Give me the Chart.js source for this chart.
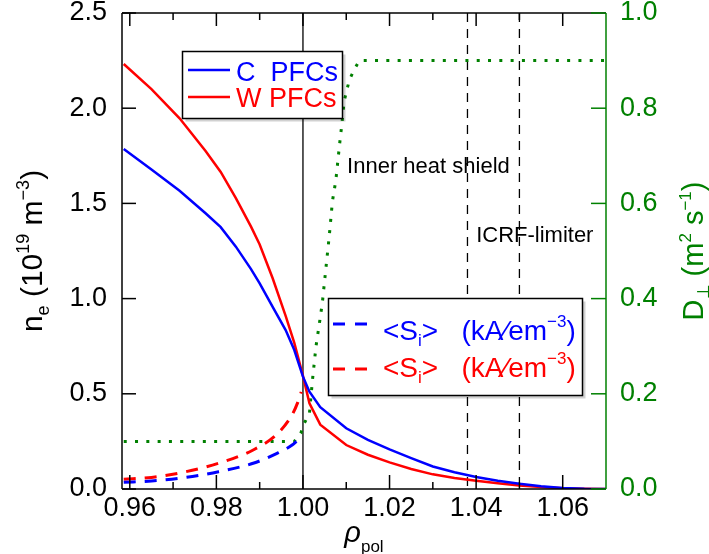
<!DOCTYPE html>
<html>
<head>
<meta charset="utf-8">
<title>Edge density profiles</title>
<style>
  html, body { margin: 0; padding: 0; background: #ffffff; overflow: hidden; }
  canvas { display: block; }
</style>
</head>
<body>
<canvas id="chart" width="709" height="554"></canvas>
<script src="https://cdn.jsdelivr.net/npm/chart.js@4.4.1/dist/chart.umd.min.js"></script>
<script>
// Electron density profiles n_e (10^19 m^-3) versus rho_pol
const rhoNe = [0.9586, 0.965, 0.9715, 0.9775, 0.981, 0.9845, 0.988, 0.990, 0.993, 0.996, 0.998, 1.000,
               1.0015, 1.004, 1.010, 1.015, 1.020, 1.025, 1.030, 1.035, 1.040, 1.045, 1.050, 1.055,
               1.060, 1.065, 1.070];
const neC = [1.786, 1.678, 1.566, 1.448, 1.375, 1.273, 1.155, 1.080, 0.957, 0.835, 0.730, 0.590,
             0.511, 0.430, 0.319, 0.258, 0.208, 0.162, 0.118, 0.088, 0.063, 0.043, 0.027, 0.014,
             0.005, 0.001, 0.000];
const neW = [2.232, 2.100, 1.947, 1.775, 1.665, 1.528, 1.378, 1.284, 1.107, 0.909, 0.767, 0.594,
             0.450, 0.338, 0.231, 0.180, 0.140, 0.105, 0.077, 0.058, 0.043, 0.030, 0.019, 0.010,
             0.004, 0.001, 0.000];

// Ionisation source <S_i> inside the separatrix
const rhoS = [0.9586, 0.965, 0.973, 0.9805, 0.9885, 0.994, 0.9975, 0.9988, 0.9996];
const sC = [0.035, 0.042, 0.061, 0.091, 0.135, 0.187, 0.231, 0.257, null];
const sW = [0.051, 0.061, 0.091, 0.135, 0.205, 0.288, 0.390, 0.455, 0.510];

// Perpendicular transport coefficient D_perp (m^2 s^-1)
const rhoD = [0.9586, 0.998, 0.9995, 1.0003, 1.0015, 1.0022, 1.003, 1.0038, 1.0045, 1.0053, 1.0061,
              1.0068, 1.0076, 1.0084, 1.009, 1.0095, 1.0107, 1.0118, 1.013, 1.070];
const dPerp = [0.100, 0.100, 0.117, 0.138, 0.159, 0.229, 0.299, 0.348, 0.393, 0.464, 0.534,
               0.604, 0.649, 0.719, 0.768, 0.814, 0.859, 0.880, 0.900, 0.900];

// Axis ticks
const xMajorTicks = [0.96, 0.98, 1.00, 1.02, 1.04, 1.06];
const xMinorTicks = [0.97, 0.99, 1.01, 1.03, 1.05];
const neTicks = [0.0, 0.5, 1.0, 1.5, 2.0, 2.5];
const dTicks = [0.0, 0.2, 0.4, 0.6, 0.8, 1.0];

// Separatrix and first-wall positions
const separatrix = 1.00;
const wallPositions = [1.038, 1.05];
const wallLabels = ['Inner heat shield', 'ICRF-limiter'];

const BLUE = '#0000ff';
const RED = '#ff0000';
const GREEN = '#008000';
const FAMILY = '"Liberation Sans", Arial, Helvetica, sans-serif';
const TICK_SIZE = 27;

function pts(xs, ys) {
  return xs.map((x, i) => ({ x: x, y: ys[i] }));
}

function font(size, italic) {
  return (italic ? 'italic ' : '') + size + 'px ' + FAMILY;
}

// Text runs with sub/superscripts: parts = [{t, s, dy, it}]
function richWidth(ctx, parts) {
  let w = 0;
  for (const p of parts) { ctx.font = font(p.s, p.it); w += ctx.measureText(p.t).width; }
  return w;
}
function drawRich(ctx, parts, x, y) {
  for (const p of parts) {
    ctx.font = font(p.s, p.it);
    ctx.fillText(p.t, x, y + (p.dy || 0));
    x += ctx.measureText(p.t).width;
  }
  return x;
}

function seg(ctx, x1, y1, x2, y2) {
  ctx.beginPath(); ctx.moveTo(x1, y1); ctx.lineTo(x2, y2); ctx.stroke();
}

function legendBox(ctx, x, y, w, h) {
  ctx.save();
  ctx.fillStyle = 'rgba(0,0,0,0.18)';
  ctx.fillRect(x + 3, y + 3, w, h);
  ctx.fillStyle = '#ffffff';
  ctx.fillRect(x, y, w, h);
  ctx.strokeStyle = '#000000';
  ctx.lineWidth = 1.5;
  ctx.strokeRect(x, y, w, h);
  ctx.restore();
}

const decorations = {
  id: 'decorations',
  beforeDatasetsDraw(chart) {
    const { ctx, chartArea: a, scales: { x, y } } = chart;
    ctx.save();
    ctx.strokeStyle = '#000000';
    ctx.lineWidth = 1.3;
    const sx = x.getPixelForValue(separatrix);
    seg(ctx, sx, a.top, sx, a.bottom);
    ctx.setLineDash([9, 7]);
    for (const w of wallPositions) {
      const px = x.getPixelForValue(w);
      seg(ctx, px, a.top, px, a.bottom);
    }
    ctx.setLineDash([]);
    ctx.fillStyle = '#000000';
    ctx.font = font(22);
    ctx.textAlign = 'left';
    ctx.textBaseline = 'alphabetic';
    ctx.fillText(wallLabels[0], x.getPixelForValue(1.0102), y.getPixelForValue(1.658));
    ctx.fillText(wallLabels[1], x.getPixelForValue(1.0400), y.getPixelForValue(1.297));
    ctx.restore();
  },
  afterDraw(chart) {
    const { ctx, chartArea: a, scales: { x, y, y2 } } = chart;
    ctx.save();
    // frame
    ctx.lineWidth = 1.5;
    ctx.strokeStyle = '#000000';
    seg(ctx, a.left, a.top, a.right, a.top);
    seg(ctx, a.left, a.bottom, a.right, a.bottom);
    seg(ctx, a.left, a.top, a.left, a.bottom);
    // inward ticks
    for (const v of xMajorTicks) {
      const px = x.getPixelForValue(v);
      seg(ctx, px, a.bottom, px, a.bottom - 14);
      seg(ctx, px, a.top, px, a.top + 13);
    }
    for (const v of xMinorTicks) {
      const px = x.getPixelForValue(v);
      seg(ctx, px, a.bottom, px, a.bottom - 7);
      seg(ctx, px, a.top, px, a.top + 7);
    }
    for (const v of neTicks) {
      const py = y.getPixelForValue(v);
      seg(ctx, a.left, py, a.left + 14, py);
    }
    ctx.strokeStyle = GREEN;
    seg(ctx, a.right, a.top, a.right, a.bottom);
    for (const v of dTicks) {
      const py = y2.getPixelForValue(v);
      seg(ctx, a.right, py, a.right - 15, py);
    }

    // legend: density profiles
    ctx.textAlign = 'left';
    ctx.textBaseline = 'alphabetic';
    legendBox(ctx, 182.5, 51.5, 160, 67);
    ctx.lineWidth = 2.5;
    ctx.strokeStyle = BLUE; seg(ctx, 188, 70, 230, 70);
    ctx.strokeStyle = RED; seg(ctx, 188, 97, 230, 97);
    ctx.font = font(27);
    ctx.fillStyle = BLUE; ctx.fillText('C  PFCs', 236, 81);
    ctx.fillStyle = RED; ctx.fillText('W PFCs', 236, 107);

    // legend: ionisation source
    legendBox(ctx, 328.5, 298.5, 254, 97);
    ctx.lineWidth = 3;
    ctx.setLineDash([12, 10]);
    ctx.strokeStyle = BLUE; seg(ctx, 333, 324, 367, 324);
    ctx.strokeStyle = RED; seg(ctx, 333, 369, 367, 369);
    ctx.setLineDash([]);
    const srcLabel = [
      { t: '<S', s: 28 }, { t: 'i', s: 17, dy: 6 }, { t: '>   (kA\u2044em', s: 28 },
      { t: '\u22123', s: 17, dy: -13 }, { t: ')', s: 28 }
    ];
    ctx.fillStyle = BLUE; drawRich(ctx, srcLabel, 383, 340);
    ctx.fillStyle = RED; drawRich(ctx, srcLabel, 383, 377);

    // axis titles
    const leftTitle = [
      { t: 'n', s: 30 }, { t: 'e', s: 18, dy: 7 }, { t: ' (10', s: 30 },
      { t: '19', s: 18, dy: -13 }, { t: ' m', s: 30 }, { t: '\u22123', s: 18, dy: -13 }, { t: ')', s: 30 }
    ];
    ctx.fillStyle = '#000000';
    ctx.save();
    ctx.translate(42, (a.top + a.bottom) / 2);
    ctx.rotate(-Math.PI / 2);
    drawRich(ctx, leftTitle, -richWidth(ctx, leftTitle) / 2, 0);
    ctx.restore();

    const rightTitle = [
      { t: 'D', s: 29 }, { t: '\u22a5', s: 17, dy: 6 }, { t: ' (m', s: 29 },
      { t: '2', s: 17, dy: -12 }, { t: ' s', s: 29 }, { t: '\u22121', s: 17, dy: -12 }, { t: ')', s: 29 }
    ];
    ctx.fillStyle = GREEN;
    ctx.save();
    ctx.translate(703, (a.top + a.bottom) / 2);
    ctx.rotate(-Math.PI / 2);
    drawRich(ctx, rightTitle, -richWidth(ctx, rightTitle) / 2, 0);
    ctx.restore();

    const xTitle = [{ t: '\u03c1', s: 29, it: true }, { t: 'pol', s: 17, dy: 10 }];
    ctx.fillStyle = '#000000';
    drawRich(ctx, xTitle, (a.left + a.right) / 2 - richWidth(ctx, xTitle) / 2, 542);
    ctx.restore();
  }
};

function noPadding(s) {
  s.paddingTop = 0; s.paddingBottom = 0; s.paddingLeft = 0; s.paddingRight = 0;
}

new Chart(document.getElementById('chart'), {
  type: 'line',
  data: {
    datasets: [
      { label: 'C PFCs', data: pts(rhoNe, neC), yAxisID: 'y', borderColor: BLUE, borderWidth: 2.5,
        tension: 0, order: 1 },
      { label: 'W PFCs', data: pts(rhoNe, neW), yAxisID: 'y', borderColor: RED, borderWidth: 2.5,
        tension: 0, order: 1 },
      { label: '<S_i> C', data: pts(rhoS, sC), yAxisID: 'y', borderColor: BLUE, borderWidth: 3,
        borderDash: [12, 9], cubicInterpolationMode: 'monotone', order: 2 },
      { label: '<S_i> W', data: pts(rhoS, sW), yAxisID: 'y', borderColor: RED, borderWidth: 3,
        borderDash: [12, 9], cubicInterpolationMode: 'monotone', order: 2 },
      { label: 'D_perp', data: pts(rhoD, dPerp), yAxisID: 'y2', borderColor: GREEN, borderWidth: 3,
        borderDash: [3, 8.3], tension: 0, order: 3 }
    ]
  },
  options: {
    responsive: false,
    animation: false,
    devicePixelRatio: 1,
    layout: { padding: { top: 13, left: 0, right: 0, bottom: 0 } },
    elements: { point: { radius: 0, hoverRadius: 0 } },
    plugins: { legend: { display: false }, tooltip: { enabled: false } },
    scales: {
      x: {
        type: 'linear', position: 'bottom', min: 0.9582, max: 1.0700,
        grid: { display: false, drawTicks: false }, border: { display: false },
        ticks: { color: '#000000', font: { family: FAMILY, size: TICK_SIZE }, padding: 3,
                 maxRotation: 0, autoSkip: false, callback: v => Number(v).toFixed(2) },
        afterBuildTicks: s => { s.ticks = xMajorTicks.map(v => ({ value: v })); },
        afterFit: s => { s.height = 65; noPadding(s); }
      },
      y: {
        type: 'linear', position: 'left', min: 0, max: 2.5,
        grid: { display: false, drawTicks: false }, border: { display: false },
        ticks: { color: '#000000', font: { family: FAMILY, size: TICK_SIZE }, padding: 15,
                 autoSkip: false, callback: v => Number(v).toFixed(1) },
        afterBuildTicks: s => { s.ticks = neTicks.map(v => ({ value: v })); },
        afterFit: s => { s.width = 122; noPadding(s); }
      },
      y2: {
        type: 'linear', position: 'right', min: 0, max: 1,
        grid: { display: false, drawTicks: false }, border: { display: false },
        ticks: { color: GREEN, font: { family: FAMILY, size: TICK_SIZE }, padding: 14,
                 autoSkip: false, callback: v => Number(v).toFixed(1) },
        afterBuildTicks: s => { s.ticks = dTicks.map(v => ({ value: v })); },
        afterFit: s => { s.width = 103; noPadding(s); }
      }
    }
  },
  plugins: [decorations]
});
</script>
</body>
</html>
